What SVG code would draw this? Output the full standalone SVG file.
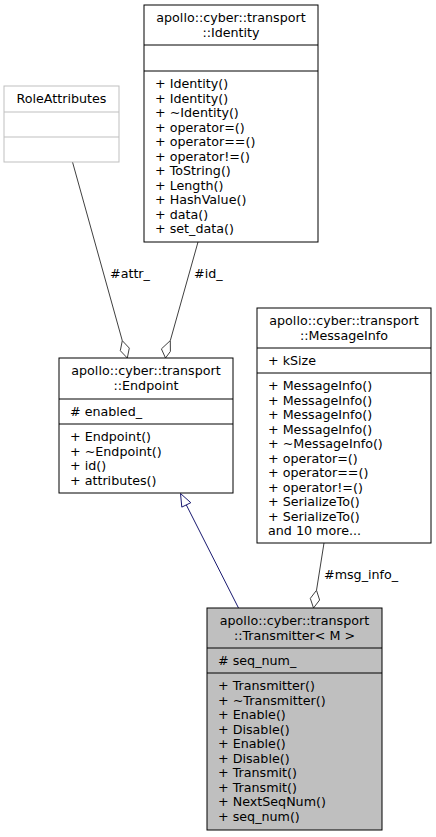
<svg xmlns="http://www.w3.org/2000/svg" width="436" height="837" viewBox="0 0 436 837">
<style>
text{font-family:"DejaVu Sans","Liberation Sans",sans-serif;font-size:12.7px;fill:#000}
.c{text-anchor:middle}
.box{fill:#fff;stroke:#000;stroke-width:1}
.main{fill:#bfbfbf;stroke:#000;stroke-width:1}
.undoc{fill:#fff;stroke:#bfbfbf;stroke-width:1}
.sep{stroke:#000;stroke-width:1}
.usep{stroke:#bfbfbf;stroke-width:1}
.agg{fill:none;stroke:#404040;stroke-width:1}
.aggh{fill:#fff;stroke:#404040;stroke-width:1}
.inh{fill:none;stroke:#191970;stroke-width:1}
.inhh{fill:#fff;stroke:#191970;stroke-width:1}
</style>
<rect width="436" height="837" fill="#fff"/>
<g id="connectors">
<g id="edge-attr">
<path class="agg" d="M72.5,162 L122.3,340.7"/>
<polygon class="aggh" points="127.3,358 129.3,348.1 122.3,340.7 120.3,350.7"/>
<text x="110" y="278">#attr_</text>
</g>
<g id="edge-id">
<path class="agg" d="M198,242 L170.3,340.6"/>
<polygon class="aggh" points="165.5,358 161.4,348.9 170.3,340.6 170.4,351.4"/>
<text x="194" y="278">#id_</text>
</g>
<g id="edge-msg">
<path class="agg" d="M324,543 L316.5,590.3"/>
<polygon class="aggh" points="313.5,608 310.3,598.4 316.5,590.3 319.6,600"/>
<text x="324" y="579">#msg_info_</text>
</g>
<g id="edge-inherit">
<path class="inh" d="M238.5,608 L186.3,504.9"/>
<polygon class="inhh" points="180.5,493.5 190.8,502.7 181.8,507.1"/>
</g>
</g>
<g id="node-identity">
<rect class="box" x="144" y="5" width="174" height="237"/>
<line class="sep" x1="144" y1="45" x2="318" y2="45"/>
<line class="sep" x1="144" y1="71" x2="318" y2="71"/>
<text class="c" x="231" y="22.25">apollo::cyber::transport</text>
<text class="c" x="231" y="36.75">::Identity</text>
<text x="155" y="88.25">+ Identity()<tspan x="155" dy="14.5">+ Identity()</tspan><tspan x="155" dy="14.5">+ ~Identity()</tspan><tspan x="155" dy="14.5">+ operator=()</tspan><tspan x="155" dy="14.5">+ operator==()</tspan><tspan x="155" dy="14.5">+ operator!=()</tspan><tspan x="155" dy="14.5">+ ToString()</tspan><tspan x="155" dy="14.5">+ Length()</tspan><tspan x="155" dy="14.5">+ HashValue()</tspan><tspan x="155" dy="14.5">+ data()</tspan><tspan x="155" dy="14.5">+ set_data()</tspan></text>
</g>
<g id="node-roleattributes">
<rect class="undoc" x="4" y="86" width="115" height="76"/>
<line class="usep" x1="4" y1="112" x2="119" y2="112"/>
<line class="usep" x1="4" y1="137" x2="119" y2="137"/>
<text class="c" x="61.5" y="103.25">RoleAttributes</text>
</g>
<g id="node-endpoint">
<rect class="box" x="59" y="358" width="174" height="135"/>
<line class="sep" x1="59" y1="399" x2="233" y2="399"/>
<line class="sep" x1="59" y1="424" x2="233" y2="424"/>
<text class="c" x="146" y="375.25">apollo::cyber::transport</text>
<text class="c" x="146" y="389.75">::Endpoint</text>
<text x="70" y="416.25"># enabled_</text>
<text x="70" y="441.25">+ Endpoint()<tspan x="70" dy="14.5">+ ~Endpoint()</tspan><tspan x="70" dy="14.5">+ id()</tspan><tspan x="70" dy="14.5">+ attributes()</tspan></text>
</g>
<g id="node-messageinfo">
<rect class="box" x="257" y="308" width="174" height="235"/>
<line class="sep" x1="257" y1="348" x2="431" y2="348"/>
<line class="sep" x1="257" y1="373" x2="431" y2="373"/>
<text class="c" x="344" y="325.25">apollo::cyber::transport</text>
<text class="c" x="344" y="339.75">::MessageInfo</text>
<text x="268" y="365.25">+ kSize</text>
<text x="268" y="390.25">+ MessageInfo()<tspan x="268" dy="14.5">+ MessageInfo()</tspan><tspan x="268" dy="14.5">+ MessageInfo()</tspan><tspan x="268" dy="14.5">+ MessageInfo()</tspan><tspan x="268" dy="14.5">+ ~MessageInfo()</tspan><tspan x="268" dy="14.5">+ operator=()</tspan><tspan x="268" dy="14.5">+ operator==()</tspan><tspan x="268" dy="14.5">+ operator!=()</tspan><tspan x="268" dy="14.5">+ SerializeTo()</tspan><tspan x="268" dy="14.5">+ SerializeTo()</tspan><tspan x="268" dy="14.5">and 10 more...</tspan></text>
</g>
<g id="node-transmitter">
<rect class="main" x="207" y="608" width="175" height="222"/>
<line class="sep" x1="207" y1="648" x2="382" y2="648"/>
<line class="sep" x1="207" y1="673" x2="382" y2="673"/>
<text class="c" x="294.5" y="625.25">apollo::cyber::transport</text>
<text class="c" x="294.5" y="639.75">::Transmitter&lt; M &gt;</text>
<text x="218" y="665.25"># seq_num_</text>
<text x="218" y="690.25">+ Transmitter()<tspan x="218" dy="14.5">+ ~Transmitter()</tspan><tspan x="218" dy="14.5">+ Enable()</tspan><tspan x="218" dy="14.5">+ Disable()</tspan><tspan x="218" dy="14.5">+ Enable()</tspan><tspan x="218" dy="14.5">+ Disable()</tspan><tspan x="218" dy="14.5">+ Transmit()</tspan><tspan x="218" dy="14.5">+ Transmit()</tspan><tspan x="218" dy="14.5">+ NextSeqNum()</tspan><tspan x="218" dy="14.5">+ seq_num()</tspan></text>
</g>
</svg>
